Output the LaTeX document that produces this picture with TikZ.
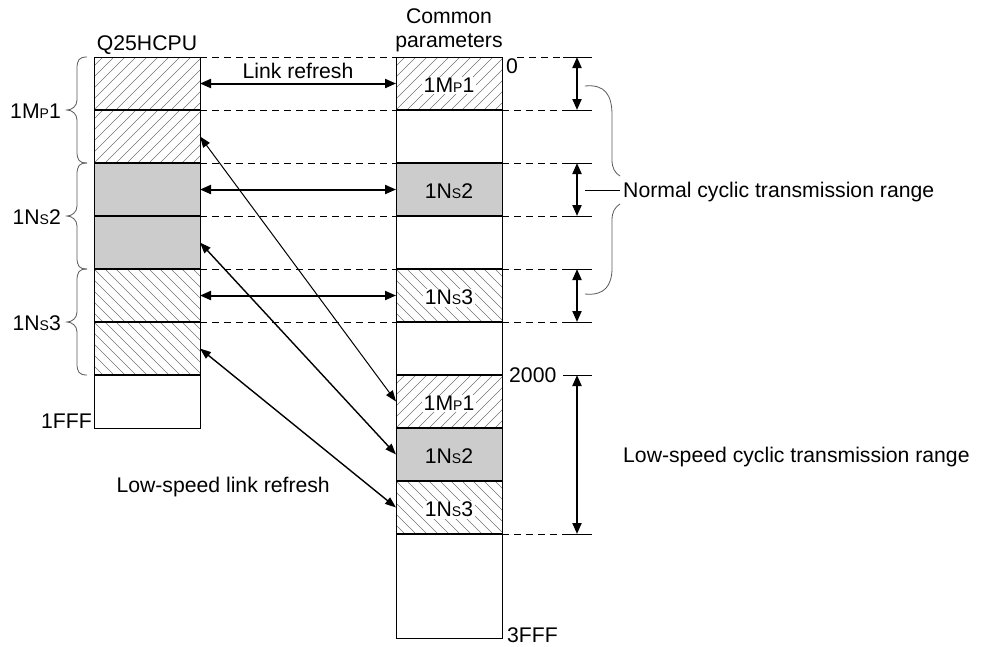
\documentclass[tikz,border=0pt]{standalone}
\usepackage{fontspec}
\setmainfont{Liberation Sans}
\usetikzlibrary{arrows.meta}
\newcommand\subl[1]{{\fontsize{14}{14}\selectfont #1}}
\begin{document}
\begin{tikzpicture}[x=1pt,y=-1pt,
 font=\fontsize{21.2}{25}\selectfont,
 mycell/.style={minimum width=106pt, minimum height=53pt, inner sep=0pt, outer sep=0pt},
 hatchline/.style={draw=black!55, line width=0.6pt},
 hatchNE/.style={path picture={\foreach \k in {-6,...,11}{\draw[hatchline] ([xshift=\k*11pt]path picture bounding box.south west) -- ++(70pt,70pt);}}},
 hatchNW/.style={path picture={\foreach \k in {-6,...,11}{\draw[hatchline] ([xshift=\k*11pt]path picture bounding box.north west) -- ++(70pt,-70pt);}}},
 grayfill/.style={fill=black!20},
 rowsep/.style={line width=1.6pt},
 outline/.style={line width=1pt},
 dashline/.style={line width=0.9pt, dash pattern=on 7pt off 5pt},
 ticksolid/.style={line width=0.9pt},
 harrow/.style={line width=2pt, arrows={Triangle[length=11pt,width=9pt]-Triangle[length=11pt,width=9pt]}},
 darrow/.style={line width=1.4pt, arrows={Triangle[length=11pt,width=8pt]-Triangle[length=11pt,width=8pt]}},
 bracel/.style={draw=black!65, line width=0.8pt},
 lab/.style={inner sep=0pt},
 celllab/.style={inner sep=1.5pt, fill=white},
]
\useasboundingbox (0,0) rectangle (982,646);

% left column cells
\node[mycell, hatchNE] (L0) at (147,83.5) {};
\node[mycell, hatchNE] (L1) at (147,136.5) {};
\node[mycell, grayfill] (L2) at (147,189.5) {};
\node[mycell, grayfill] (L3) at (147,242.5) {};
\node[mycell, hatchNW] (L4) at (147,295.5) {};
\node[mycell, hatchNW] (L5) at (147,348.5) {};
\node[mycell] (L6) at (147,401.5) {};

% right column cells
\node[mycell, hatchNE] (R0) at (449,83.5) {};
\node[mycell] (R1) at (449,136.5) {};
\node[mycell, grayfill] (R2) at (449,189.5) {};
\node[mycell] (R3) at (449,242.5) {};
\node[mycell, hatchNW] (R4) at (449,295.5) {};
\node[mycell] (R5) at (449,348.5) {};
\node[mycell, hatchNE] (R6) at (449,401.5) {};
\node[mycell, grayfill] (R7) at (449,454.5) {};
\node[mycell, hatchNW] (R8) at (449,507.5) {};
\node[mycell, minimum height=104pt] (R9) at (449,586) {};

% outlines and separators
\draw[outline] (L0.north west) rectangle (L6.south east);
\draw[outline] (R0.north west) rectangle (R9.south east);
\foreach \n in {L0,L1,L2,L3,L4,L5} \draw[rowsep] (\n.south west) -- (\n.south east);
\foreach \n in {R0,R1,R2,R3,R4,R5,R6,R7,R8} \draw[rowsep] (\n.south west) -- (\n.south east);

% cell labels
\node[celllab] (c0) at ([yshift=-2pt]R0.center) {1M\subl{P}1};
\node[lab] (c2) at ([yshift=-2pt]R2.center) {1N\subl{S}2};
\node[celllab] (c4) at ([yshift=-2pt]R4.center) {1N\subl{S}3};
\node[celllab] (c6) at ([yshift=-2pt]R6.center) {1M\subl{P}1};
\node[lab] (c7) at ([yshift=-2pt]R7.center) {1N\subl{S}2};
\node[celllab] (c8) at ([yshift=-2pt]R8.center) {1N\subl{S}3};

% texts
\node[lab, anchor=base] (q25) at (147,50) {Q25HCPU};
\node[lab, anchor=base] (common) at (449,23) {Common};
\node[lab, anchor=base] (params) at (449,47) {parameters};
\node[lab, anchor=base] (linkref) at (298,78) {Link refresh};
\node[lab, anchor=base east] (lowlink) at (330,492) {Low-speed link refresh};
\node[lab, anchor=north west] (zero) at (506,58) {0};
\node[lab, anchor=west] (t2000) at (509,375) {2000};
\node[lab, anchor=west] (t3fff) at (507,635.5) {3FFF};
\node[lab, anchor=east] (t1fff) at (92,421) {1FFF};
\node[lab, anchor=base west] (normal) at (623,197) {Normal cyclic transmission range};
\node[lab, anchor=base west] (lowspeed) at (623,462) {Low-speed cyclic transmission range};
\node[lab, anchor=base east] (lmp1) at (61,118) {1M\subl{P}1};
\node[lab, anchor=base east] (lns2) at (61,224) {1N\subl{S}2};
\node[lab, anchor=base east] (lns3) at (61,330) {1N\subl{S}3};

% dashed lines between columns
\foreach \i in {0,...,5} \draw[dashline] (L\i.north east) -- (R\i.north west);

% right-side dashed lines and ticks
\coordinate (dimA) at (563,0);
\coordinate (dimM) at (577,0);
\coordinate (dimB) at (592,0);
\draw[dashline] ([xshift=15pt]R0.north east) -- (R0.north east -| dimA);
\foreach \i in {1,...,5} \draw[dashline] (R\i.north east) -- (R\i.north east -| dimA);
\draw[dashline] (R9.north east) -- (R9.north east -| dimA);
\foreach \i in {0,...,6,9} \draw[ticksolid] (R\i.north east -| dimA) -- (R\i.north east -| dimB);

% dimension arrows
\draw[harrow] (R0.north east -| dimM) -- (R0.south east -| dimM);
\draw[harrow] (R2.north east -| dimM) -- (R2.south east -| dimM);
\draw[harrow] (R4.north east -| dimM) -- (R4.south east -| dimM);
\draw[harrow] (R6.north east -| dimM) -- (R9.north east -| dimM);

% link refresh arrows
\draw[harrow] (L0.east) -- (R0.west);
\draw[harrow] (L2.east) -- (R2.west);
\draw[harrow] (L4.east) -- (R4.west);

% low-speed link refresh arrows
\draw[darrow, line width=1pt] (L1.east) -- (R6.west);
\draw[darrow] (L3.east) -- (R7.west);
\draw[darrow] (L5.east) -- (R8.west);

% left braces
\foreach \t in {57,163,269}
  \draw[bracel] (87,\t) .. controls (79,\t) and (77,\t+3) .. (77,\t+12) -- (77,\t+43)
    .. controls (77,\t+49) and (72,\t+53) .. (67,\t+53)
    .. controls (72,\t+53) and (77,\t+57) .. (77,\t+63) -- (77,\t+94)
    .. controls (77,\t+103) and (79,\t+106) .. (87,\t+106);

% right brace
\draw[bracel] (585,86) .. controls (605,84) and (612,95) .. (612,115) -- (612,160)
  .. controls (612,168) and (615,173) .. (620,176);
\draw[bracel] (620,204) .. controls (615,207) and (612,212) .. (612,220) -- (612,268)
  .. controls (612,285) and (605,296) .. (585,294);
\coordinate (bl) at (585,190);
\draw[ticksolid] (bl) -- ([xshift=-3pt]bl -| normal.west);
\end{tikzpicture}
\end{document}
